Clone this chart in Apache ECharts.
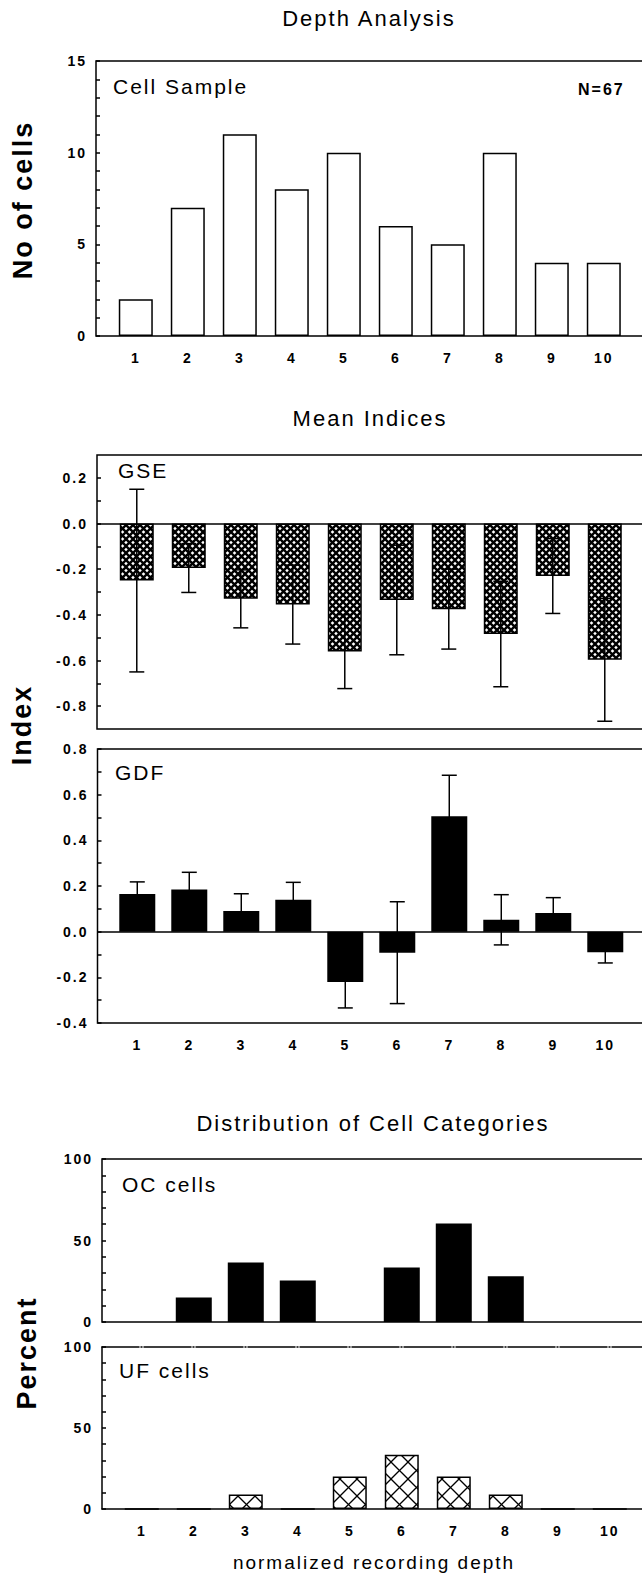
<!DOCTYPE html>
<html>
<head>
<meta charset="utf-8">
<script src="https://cdn.jsdelivr.net/npm/echarts@6/dist/echarts.min.js"></script>
<style>
  body { margin: 0; background: #fff; }
  #main { width: 642px; height: 1575px; letter-spacing: 2px; }
  #main text[style*="font-size:22px"] { letter-spacing: 3.5px; }
  #main text[style*="font-size:21px"] { letter-spacing: 3px; }
  #main text[style*="font-size:27px"] { letter-spacing: 0.5px; }
  #main text[style*="font-size:19px"] { letter-spacing: 2px; }
</style>
</head>
<body>
<div id="main"></div>
<script>
// normalized recording depth bins
var depths = [1, 2, 3, 4, 5, 6, 7, 8, 9, 10];

// Depth Analysis - cell sample
var cellCounts = [2, 7, 11, 8, 10, 6, 5, 10, 4, 4];

// Mean indices (mean and half error bar)
var gseMean = [-0.25, -0.195, -0.33, -0.355, -0.561, -0.335, -0.375, -0.484, -0.23, -0.597];
var gseErr  = [0.40, 0.107, 0.127, 0.173, 0.162, 0.24, 0.175, 0.231, 0.164, 0.269];
var gdfMean = [0.165, 0.185, 0.09, 0.14, -0.22, -0.092, 0.505, 0.052, 0.082, -0.09];
var gdfErr  = [0.053, 0.075, 0.076, 0.076, 0.114, 0.223, 0.18, 0.11, 0.067, 0.047];

// Distribution of cell categories (percent)
var ocPercent = [0, 15, 36.5, 25.5, 0, 33.5, 60.5, 28, 0, 0];
var ufPercent = [0, 0, 9, 0, 20, 33.5, 20, 9, 0, 0];

// tick labels / tick marks
var gseTickLabels = [-0.8, -0.6, -0.4, -0.2, 0, 0.2];
var gseTickMarks = [-0.8, -0.7, -0.6, -0.5, -0.4, -0.3, -0.2, -0.1, 0, 0.1, 0.2];

var FONT = 'Liberation Sans';

function crossTile(size, lw) {
    var c = document.createElement('canvas');
    c.width = size; c.height = size;
    var g = c.getContext('2d');
    g.fillStyle = '#fff';
    g.fillRect(0, 0, size, size);
    g.strokeStyle = '#000';
    g.lineWidth = lw;
    for (var k = -1; k <= 1; k++) {
        g.beginPath(); g.moveTo(k * size, 0); g.lineTo(k * size + size, size); g.stroke();
        g.beginPath(); g.moveTo(k * size + size, 0); g.lineTo(k * size, size); g.stroke();
    }
    return c;
}
var denseHatch = { image: crossTile(7, 2.4), repeat: 'repeat', imageWidth: 7, imageHeight: 7 };
var wideHatch = { image: crossTile(17, 1.3), repeat: 'repeat', imageWidth: 17, imageHeight: 17 };

function pairs(vals) {
    return depths.map(function (d, i) { return [d, vals[i]]; });
}
function errPairs(mean, err) {
    return depths.map(function (d, i) { return [d, mean[i] - err[i], mean[i] + err[i]]; });
}

function errorBarItem(params, api) {
    var x = api.value(0);
    var lo = api.coord([x, api.value(1)]);
    var hi = api.coord([x, api.value(2)]);
    var half = 7.5;
    var st = { stroke: '#000', lineWidth: 1.5 };
    return {
        type: 'group',
        children: [
            { type: 'line', shape: { x1: hi[0], y1: hi[1], x2: lo[0], y2: lo[1] }, style: st },
            { type: 'line', shape: { x1: hi[0] - half, y1: hi[1], x2: hi[0] + half, y2: hi[1] }, style: st },
            { type: 'line', shape: { x1: lo[0] - half, y1: lo[1], x2: lo[0] + half, y2: lo[1] }, style: st }
        ]
    };
}

var tickFont = { color: '#000', fontSize: 14, fontWeight: 'bold', fontFamily: FONT };
var border = { show: true, borderColor: '#000', borderWidth: 1.5, outerBoundsMode: 'none', containLabel: false };

function xAxisFor(gridIndex, labels) {
    return {
        type: 'value', gridIndex: gridIndex, min: 0.235, max: 11.235,
        axisLine: { show: false, onZero: false },
        axisTick: { show: false },
        splitLine: { show: false },
        axisLabel: Object.assign({ show: labels, customValues: depths, margin: 15 }, tickFont)
    };
}

function yAxisFor(gridIndex, extra) {
    return Object.assign({
        type: 'value', gridIndex: gridIndex,
        axisLine: { show: false },
        axisTick: { show: true, inside: true, length: 4, lineStyle: { color: '#000', width: 1.5 } },
        minorTick: { show: false },
        splitLine: { show: false },
        minorSplitLine: { show: false }
    }, extra);
}

var zeroLine = {
    silent: true, symbol: ['none', 'none'],
    label: { show: false },
    lineStyle: { color: '#000', width: 1.5, type: 'solid' },
    data: [{ yAxis: 0 }]
};

function fmt1(v) { return (+v).toFixed(1); }

var texts = [
    ['Depth Analysis', 369, 18.5, 22, 'normal', 'center', 0],
    ['Mean Indices', 370, 418, 22, 'normal', 'center', 0],
    ['Distribution of Cell Categories', 373, 1123, 22, 'normal', 'center', 0],
    ['normalized recording depth', 374, 1562, 19, 'normal', 'center', 0],
    ['Cell Sample', 113, 86, 21, 'normal', 'left', 0],
    ['N=67', 578, 89, 16, 'bold', 'left', 0],
    ['GSE', 118, 470, 21, 'normal', 'left', 0],
    ['GDF', 115, 772, 21, 'normal', 'left', 0],
    ['OC cells', 122, 1184, 21, 'normal', 'left', 0],
    ['UF cells', 119, 1370, 21, 'normal', 'left', 0],
    ['No of cells', 23, 200, 27, 'bold', 'center', Math.PI / 2],
    ['Index', 22, 725, 27, 'bold', 'center', Math.PI / 2],
    ['Percent', 27, 1353, 27, 'bold', 'center', Math.PI / 2]
];

var option = {
    animation: false,
    backgroundColor: '#fff',
    graphic: {
        elements: texts.map(function (t) {
            return {
                type: 'text', x: t[1], y: t[2], rotation: t[6],
                style: {
                    text: t[0], fill: '#000', fontSize: t[3], fontWeight: t[4],
                    fontFamily: FONT, textAlign: t[5], textVerticalAlign: 'middle'
                }
            };
        })
    },
    grid: [
        Object.assign({ left: 96, top: 61, width: 572, height: 275 }, border),
        Object.assign({ left: 97, top: 455, width: 572, height: 274 }, border),
        Object.assign({ left: 97.5, top: 749, width: 572, height: 274 }, border),
        Object.assign({ left: 102, top: 1159, width: 572, height: 163 }, border),
        Object.assign({ left: 102, top: 1347, width: 572, height: 162 }, border, { show: false })
    ],
    xAxis: [
        xAxisFor(0, true),
        xAxisFor(1, false),
        xAxisFor(2, true),
        xAxisFor(3, false),
        Object.assign(xAxisFor(4, true), {
            axisLine: { show: true, onZero: false, lineStyle: { color: '#000', width: 1.5 } }
        }),
        {
            type: 'value', gridIndex: 4, position: 'top', min: 0.235, max: 11.235,
            axisLine: { show: true, onZero: false, lineStyle: { color: '#000', width: 1.5, type: [47, 2, 1, 2], dashOffset: 10 } },
            axisTick: { show: false }, axisLabel: { show: false }, splitLine: { show: false }
        }
    ],
    yAxis: [
        yAxisFor(0, {
            min: 0, max: 15, interval: 5,
            minorTick: { show: true, splitNumber: 5, length: 4, lineStyle: { color: '#000', width: 1.5 } },
            axisLabel: Object.assign({ margin: 9 }, tickFont)
        }),
        yAxisFor(1, {
            min: -0.9, max: 0.3,
            axisTick: { show: true, inside: true, length: 4, customValues: gseTickMarks, lineStyle: { color: '#000', width: 1.5 } },
            axisLabel: Object.assign({ margin: 9, customValues: gseTickLabels, formatter: fmt1 }, tickFont)
        }),
        yAxisFor(2, {
            min: -0.4, max: 0.8, interval: 0.2,
            minorTick: { show: true, splitNumber: 2, length: 4, lineStyle: { color: '#000', width: 1.5 } },
            axisLabel: Object.assign({ margin: 9, formatter: fmt1 }, tickFont)
        }),
        yAxisFor(3, {
            min: 0, max: 100, interval: 50,
            minorTick: { show: true, splitNumber: 5, length: 4, lineStyle: { color: '#000', width: 1.5 } },
            axisLabel: Object.assign({ margin: 9 }, tickFont)
        }),
        yAxisFor(4, {
            min: 0, max: 100, interval: 50,
            axisLine: { show: true, onZero: false, lineStyle: { color: '#000', width: 1.5 } },
            minorTick: { show: true, splitNumber: 5, length: 4, lineStyle: { color: '#000', width: 1.5 } },
            axisLabel: Object.assign({ margin: 9 }, tickFont)
        })
    ],
    series: [
        {
            type: 'bar', xAxisIndex: 0, yAxisIndex: 0, barWidth: 34,
            itemStyle: { color: '#fff', borderColor: '#000', borderWidth: 1.5 },
            data: pairs(cellCounts)
        },
        {
            type: 'bar', xAxisIndex: 1, yAxisIndex: 1, barWidth: 34,
            itemStyle: { color: denseHatch, borderColor: '#000', borderWidth: 1.5 },
            markLine: zeroLine,
            data: pairs(gseMean)
        },
        {
            type: 'custom', xAxisIndex: 1, yAxisIndex: 1, z: 10,
            renderItem: errorBarItem, encode: { x: 0, y: [1, 2] },
            data: errPairs(gseMean, gseErr)
        },
        {
            type: 'bar', xAxisIndex: 2, yAxisIndex: 2, barWidth: 36,
            itemStyle: { color: '#000' },
            markLine: zeroLine,
            data: pairs(gdfMean)
        },
        {
            type: 'custom', xAxisIndex: 2, yAxisIndex: 2, z: 10,
            renderItem: errorBarItem, encode: { x: 0, y: [1, 2] },
            data: errPairs(gdfMean, gdfErr)
        },
        {
            type: 'bar', xAxisIndex: 3, yAxisIndex: 3, barWidth: 36,
            itemStyle: { color: '#000' },
            data: pairs(ocPercent)
        },
        {
            type: 'bar', xAxisIndex: 4, yAxisIndex: 4, barWidth: 34,
            itemStyle: { color: wideHatch, borderColor: '#000', borderWidth: 1.5 },
            data: pairs(ufPercent)
        }
    ]
};

echarts.init(document.getElementById('main'), null, { renderer: 'svg' }).setOption(option);
</script>
</body>
</html>
